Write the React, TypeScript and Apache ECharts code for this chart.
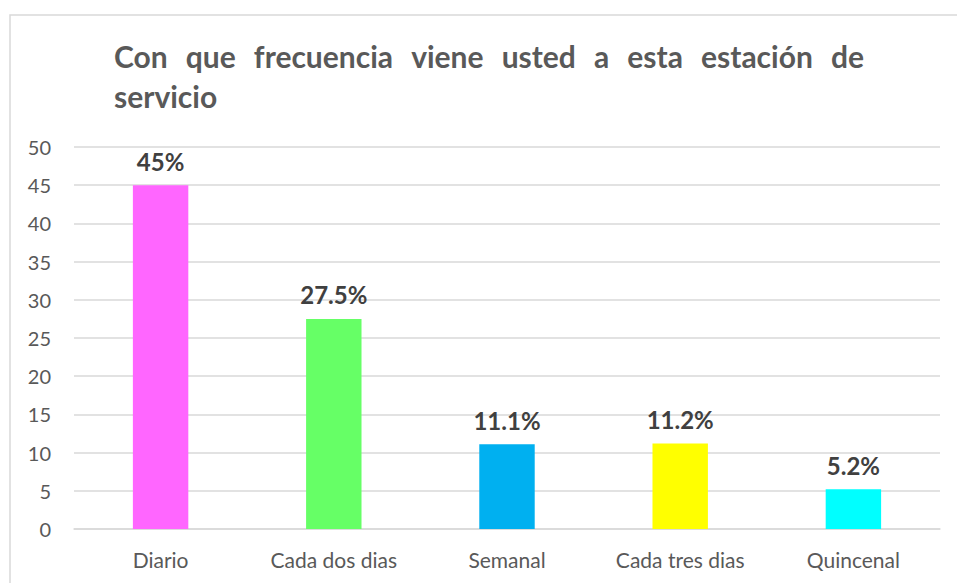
import React, { useEffect, useRef } from "react";
import * as echarts from "echarts";

const categories = ["Diario", "Cada dos dias", "Semanal", "Cada tres dias", "Quincenal"];
const values = [45, 27.5, 11.1, 11.2, 5.2];
const valueLabels = ["45%", "27.5%", "11.1%", "11.2%", "5.2%"];
const barColors = ["#FF66FF", "#66FF66", "#00B0F0", "#FFFF00", "#00FFFF"];
const titleLines = ["Con que frecuencia viene usted a esta estación de", "servicio"];

const FONT = "Lato, 'Open Sans', sans-serif";

function buildTitle(): any[] {
  const fontSize = 30;
  const font = `bold ${fontSize}px Lato`;
  const canvas = document.createElement("canvas");
  const ctx = canvas.getContext("2d") as CanvasRenderingContext2D;
  ctx.font = font;
  const left = 114;
  const right = 864;
  const els: any[] = [];
  const style = (text: string, x: number, y: number) => ({
    type: "text",
    x,
    y,
    style: {
      text,
      fill: "#595959",
      font: `bold ${fontSize}px ${FONT}`,
      textAlign: "left",
      textVerticalAlign: "middle",
    },
  });
  const words = titleLines[0].split(" ");
  const widths = words.map((w) => ctx.measureText(w).width);
  const total = widths.reduce((a, b) => a + b, 0);
  const gap = (right - left - total) / (words.length - 1);
  let x = left;
  words.forEach((w, i) => {
    els.push(style(w, x, 56));
    x += widths[i] + gap;
  });
  els.push(style(titleLines[1], left, 96));
  return els;
}

export default function App() {
  const ref = useRef<HTMLDivElement>(null);
  useEffect(() => {
    if (!ref.current) return;
    const chart = echarts.init(ref.current, undefined, { renderer: "svg" });
    chart.setOption({
      animation: false,
      backgroundColor: "#ffffff",
      graphic: [
        {
          type: "rect",
          shape: { x: 10, y: 15, width: 1000, height: 700 },
          style: { fill: "none", stroke: "#d9d9d9", lineWidth: 1.5 },
          silent: true,
          z: -10,
        },
        ...buildTitle(),
      ],
      grid: {
        left: 74,
        right: 17,
        top: 147,
        bottom: 54,
        containLabel: false,
        outerBoundsMode: "none",
      },
      xAxis: {
        type: "category",
        data: categories,
        axisLine: { show: true, lineStyle: { color: "#d9d9d9", width: 1.5 } },
        axisTick: { show: false },
        axisLabel: {
          color: "#595959",
          fontFamily: FONT,
          fontSize: 21,
          margin: 20,
        },
      },
      yAxis: {
        type: "value",
        min: 0,
        max: 50,
        interval: 5,
        axisLine: { show: false },
        axisTick: { show: false },
        splitLine: { lineStyle: { color: "#d9d9d9", width: 1.5 } },
        axisLabel: {
          color: "#595959",
          fontFamily: FONT,
          fontSize: 20,
          margin: 23,
        },
      },
      series: [
        {
          type: "bar",
          barWidth: "32%",
          data: values.map((v, i) => ({
            value: v,
            itemStyle: { color: barColors[i] },
          })),
          label: {
            show: true,
            position: "top",
            distance: 12,
            color: "#404040",
            fontFamily: FONT,
            fontWeight: "bold",
            fontSize: 24,
            formatter: (p: any) => valueLabels[p.dataIndex],
          },
        },
      ],
    });
    return () => chart.dispose();
  }, []);
  return (
    <div
      ref={ref}
      style={{ position: "absolute", left: 0, top: 0, width: 957, height: 583 }}
    />
  );
}
